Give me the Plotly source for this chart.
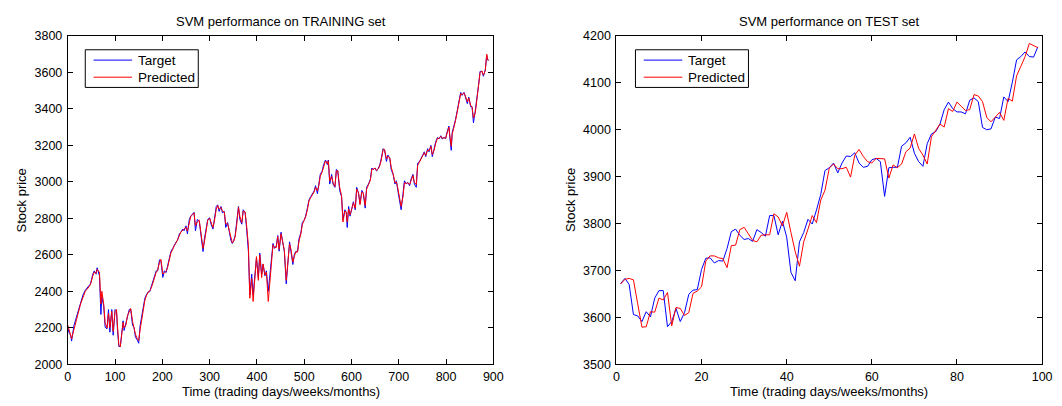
import plotly.graph_objects as go

# ---------------- training set (time index, target price, SVM prediction) ----------------
train_days = [
    0, 3, 6, 8, 13, 18, 22, 27, 32, 37,
    43, 48, 53, 56, 60, 62, 67, 70, 72, 76,
    79, 83, 86, 89, 93, 96, 100, 103, 105, 108,
    111, 114, 117, 119, 123, 126, 130, 133, 137, 140,
    143, 147, 150, 153, 156, 159, 163, 166, 170, 173,
    176, 180, 183, 187, 190, 194, 197, 201, 204, 208,
    211, 215, 218, 222, 225, 229, 232, 236, 239, 243,
    246, 250, 253, 257, 260, 264, 267, 270, 274, 278,
    281, 284, 286, 289, 293, 296, 300, 303, 307, 310,
    314, 317, 320, 324, 327, 331, 334, 338, 341, 345,
    348, 351, 354, 357, 361, 364, 368, 371, 375, 378,
    382, 385, 389, 392, 396, 399, 403, 406, 410, 413,
    417, 420, 424, 427, 430, 434, 437, 441, 444, 447,
    451, 455, 458, 462, 465, 469, 472, 476, 479, 482,
    486, 489, 493, 496, 500, 503, 507, 510, 514, 517,
    521, 524, 528, 531, 534, 538, 541, 545, 549, 551,
    554, 558, 561, 565, 568, 571, 575, 579, 582, 586,
    589, 591, 594, 597, 601, 604, 608, 611, 615, 618,
    622, 625, 629, 632, 636, 640, 643, 646, 650, 653,
    657, 660, 663, 667, 670, 674, 677, 681, 684, 688,
    692, 695, 698, 702, 705, 709, 712, 716, 719, 723,
    726, 730, 733, 737, 740, 744, 747, 750, 754, 757,
    761, 764, 768, 771, 775, 778, 782, 785, 789, 792,
    796, 799, 802, 806, 808, 811, 813, 817, 820, 824,
    827, 831, 834, 838, 841, 845, 848, 852, 855, 858,
    862, 865, 869, 872, 876, 879, 883, 886, 888, 890,
]

train_target = [
    2200, 2170, 2160, 2127, 2212, 2256, 2291, 2335, 2379, 2406,
    2423, 2441, 2494, 2512, 2494, 2529, 2485, 2273, 2370, 2318,
    2203, 2194, 2300, 2176, 2300, 2159, 2300, 2291, 2194, 2097,
    2097, 2185, 2238, 2185, 2230, 2273, 2300, 2303, 2212, 2203,
    2150, 2132, 2115, 2212, 2256, 2318, 2362, 2380, 2397, 2397,
    2423, 2450, 2485, 2512, 2512, 2573, 2565, 2476, 2512, 2503,
    2538, 2591, 2618, 2635, 2653, 2670, 2679, 2715, 2724, 2741,
    2732, 2759, 2715, 2794, 2812, 2821, 2833, 2732, 2794, 2785,
    2724, 2671, 2618, 2688, 2759, 2794, 2803, 2768, 2741, 2794,
    2865, 2874, 2838, 2865, 2830, 2838, 2750, 2777, 2724, 2679,
    2662, 2679, 2706, 2777, 2865, 2794, 2768, 2847, 2830, 2750,
    2618, 2380, 2494, 2380, 2476, 2582, 2476, 2609, 2494, 2547,
    2485, 2512, 2400, 2476, 2582, 2662, 2635, 2650, 2706, 2620,
    2724, 2653, 2618, 2441, 2547, 2671, 2618, 2547, 2600, 2618,
    2620, 2688, 2720, 2777, 2790, 2812, 2860, 2900, 2920, 2935,
    2950, 2979, 2935, 2988, 3041, 3059, 3094, 3120, 3094, 3120,
    2988, 3041, 2988, 2970, 3068, 3059, 2953, 2918, 2794, 2847,
    2830, 2750, 2865, 2812, 2865, 2891, 2847, 2970, 2935, 2882,
    2953, 2935, 2856, 2970, 2988, 3015, 3076, 3068, 3076, 3059,
    3076, 3094, 3129, 3182, 3173, 3112, 3147, 3129, 3068, 3041,
    2988, 3006, 2953, 2900, 2847, 2935, 3006, 2988, 2997, 2979,
    3015, 3041, 2988, 2970, 3103, 3112, 3129, 3138, 3165, 3138,
    3182, 3165, 3200, 3138, 3182, 3218, 3244, 3235, 3253, 3235,
    3244, 3235, 3271, 3306, 3244, 3173, 3271, 3306, 3341, 3394,
    3429, 3491, 3474, 3491, 3465, 3429, 3465, 3412, 3412, 3324,
    3394, 3447, 3535, 3606, 3606, 3579, 3615, 3694, 3668, 3668,
]

train_predicted = [
    2215, 2185, 2150, 2140, 2190, 2250, 2280, 2330, 2370, 2400,
    2418, 2438, 2485, 2505, 2500, 2520, 2505, 2330, 2400, 2330,
    2225, 2200, 2280, 2200, 2290, 2180, 2290, 2300, 2215, 2105,
    2095, 2160, 2230, 2200, 2215, 2265, 2295, 2305, 2235, 2200,
    2165, 2140, 2130, 2190, 2245, 2300, 2350, 2375, 2395, 2400,
    2415, 2445, 2475, 2505, 2515, 2560, 2575, 2495, 2500, 2510,
    2530, 2580, 2610, 2630, 2650, 2665, 2680, 2705, 2725, 2735,
    2740, 2750, 2730, 2780, 2810, 2820, 2830, 2760, 2780, 2790,
    2740, 2690, 2635, 2670, 2745, 2790, 2800, 2775, 2750, 2785,
    2850, 2870, 2850, 2860, 2840, 2835, 2770, 2770, 2735, 2690,
    2665, 2675, 2700, 2760, 2860, 2810, 2775, 2840, 2835, 2765,
    2650, 2362, 2470, 2344, 2460, 2590, 2460, 2600, 2475, 2550,
    2490, 2505, 2344, 2450, 2570, 2655, 2640, 2640, 2700, 2630,
    2715, 2665, 2625, 2460, 2530, 2660, 2630, 2560, 2590, 2615,
    2615, 2675, 2715, 2765, 2790, 2808, 2850, 2895, 2915, 2930,
    2945, 2970, 2950, 2980, 3030, 3055, 3088, 3115, 3100, 3115,
    3005, 3030, 2995, 2975, 3060, 3062, 2970, 2925, 2780, 2840,
    2835, 2780, 2850, 2820, 2855, 2885, 2855, 2960, 2940, 2875,
    2945, 2940, 2870, 2960, 2985, 3010, 3070, 3070, 3075, 3062,
    3072, 3090, 3120, 3178, 3178, 3125, 3140, 3132, 3080, 3045,
    2995, 3000, 2965, 2910, 2865, 2920, 2995, 2992, 2995, 2985,
    3010, 3035, 2998, 2985, 3090, 3110, 3125, 3136, 3160, 3145,
    3175, 3170, 3195, 3150, 3175, 3210, 3240, 3238, 3250, 3240,
    3242, 3238, 3265, 3300, 3255, 3195, 3260, 3300, 3335, 3388,
    3425, 3485, 3478, 3488, 3470, 3440, 3460, 3420, 3410, 3350,
    3380, 3440, 3525, 3600, 3608, 3585, 3610, 3700, 3672, 3665,
]

# ---------------- test set ----------------
test_days = list(range(1, 100))

test_target = [
    3672, 3683, 3670, 3606, 3603, 3591, 3612, 3601, 3641, 3657,
    3657, 3580, 3591, 3619, 3591, 3610, 3649, 3658, 3659, 3702,
    3726, 3727, 3716, 3721, 3720, 3747, 3783, 3788, 3775, 3766,
    3768, 3762, 3787, 3781, 3773, 3817, 3817, 3776, 3805, 3771,
    3696, 3678, 3761, 3781, 3809, 3799, 3829, 3862, 3913, 3919,
    3929, 3908, 3929, 3944, 3943, 3951, 3929, 3920, 3922, 3936,
    3939, 3932, 3858, 3919, 3920, 3920, 3965, 3972, 3984, 3950,
    3932, 3922, 3970, 3991, 3996, 4012, 4043, 4059, 4045, 4038,
    4038, 4034, 4063, 4068, 4060, 4005, 4000, 4002, 4027, 4024,
    4070, 4060, 4101, 4149, 4156, 4166, 4156, 4155, 4177,
]

test_predicted = [
    3671, 3681, 3683, 3680, 3629, 3579, 3580, 3612, 3611, 3641,
    3637, 3653, 3582, 3621, 3619, 3604, 3610, 3651, 3656, 3665,
    3720, 3731, 3731, 3727, 3725, 3706, 3753, 3754, 3787, 3792,
    3778, 3764, 3761, 3775, 3776, 3776, 3821, 3814, 3795, 3824,
    3781, 3740, 3709, 3761, 3788, 3817, 3802, 3850, 3871, 3918,
    3927, 3917, 3917, 3920, 3899, 3946, 3958, 3943, 3932, 3929,
    3939, 3938, 3938, 3897, 3925, 3919, 3927, 3953, 3961, 3991,
    3960, 3946, 3927, 3985, 3998, 4012, 4006, 4045, 4039, 4059,
    4050, 4041, 4043, 4075, 4072, 4060, 4026, 4017, 4027, 4037,
    4020, 4067, 4061, 4115, 4135, 4156, 4184, 4180, 4175,
]

series_names = ["Target", "Predicted"]
panel_titles = ["SVM performance on TRAINING set", "SVM performance on TEST set"]
x_label = "Time (trading days/weeks/months)"
y_label = "Stock price"

FONT = "Liberation Sans, Arial, Helvetica, sans-serif"
BLUE = "#0000ff"
RED = "#ff0000"
W, H = 1062, 406

fig = go.Figure()

fig.add_trace(go.Scatter(x=train_days, y=train_target, mode="lines", name=series_names[0],
                         line=dict(color=BLUE, width=1), xaxis="x", yaxis="y", showlegend=False))
fig.add_trace(go.Scatter(x=train_days, y=train_predicted, mode="lines", name=series_names[1],
                         line=dict(color=RED, width=1), xaxis="x", yaxis="y", showlegend=False))
fig.add_trace(go.Scatter(x=test_days, y=test_target, mode="lines", name=series_names[0],
                         line=dict(color=BLUE, width=1), xaxis="x2", yaxis="y2", showlegend=False))
fig.add_trace(go.Scatter(x=test_days, y=test_predicted, mode="lines", name=series_names[1],
                         line=dict(color=RED, width=1), xaxis="x2", yaxis="y2", showlegend=False))

# plot-area geometry in pixels
left_box = (65.6, 496.4)
right_box = (621.0, 1052.0)
top_px, bottom_px = 30.0, 370.0
ydom = [1 - bottom_px / H, 1 - top_px / H]


def px_x(v):
    return v / W


def px_y(v):
    return 1 - v / H


axis_common = dict(
    showline=True, linecolor="black", linewidth=1, mirror="ticks",
    ticks="inside", ticklen=5, tickcolor="black", tickwidth=1,
    showgrid=False, zeroline=False,
    tickfont=dict(family=FONT, size=12.5, color="black"),
)

fig.update_layout(
    width=W, height=H,
    margin=dict(l=0, r=0, t=0, b=0),
    paper_bgcolor="white", plot_bgcolor="white",
    font=dict(family=FONT, size=13, color="black"),
    showlegend=False,
    xaxis=dict(domain=[px_x(left_box[0]), px_x(left_box[1])], range=[0, 900],
               tickmode="linear", tick0=0, dtick=100, anchor="y",
               ticklabelstandoff=1, **axis_common),
    yaxis=dict(domain=ydom, range=[2000, 3800], tickmode="linear", tick0=2000, dtick=200,
               anchor="x", ticklabelstandoff=2, **axis_common),
    xaxis2=dict(domain=[px_x(right_box[0]), px_x(right_box[1])], range=[0, 100],
                tickmode="linear", tick0=0, dtick=20, anchor="y2",
                ticklabelstandoff=1, **axis_common),
    yaxis2=dict(domain=ydom, range=[3500, 4200], tickmode="linear", tick0=3500, dtick=100,
                anchor="x2", ticklabelstandoff=2, **axis_common),
)

annotations = []
shapes = []
legend_boxes = [(83.3, 197.7), (640.3, 754.7)]
for box, title, lbox in zip([left_box, right_box], panel_titles, legend_boxes):
    cx = px_x((box[0] + box[1]) / 2)
    annotations.append(dict(text=title, x=cx, y=px_y(15.5), xref="paper", yref="paper",
                            xanchor="center", yanchor="middle", showarrow=False,
                            font=dict(family=FONT, size=13, color="black")))
    annotations.append(dict(text=x_label, x=cx, y=px_y(398), xref="paper", yref="paper",
                            xanchor="center", yanchor="middle", showarrow=False,
                            font=dict(family=FONT, size=13, color="black")))
    annotations.append(dict(text=y_label, x=px_x(box[0] - 47), y=(ydom[0] + ydom[1]) / 2,
                            xref="paper", yref="paper", xanchor="center", yanchor="middle",
                            textangle=-90, showarrow=False,
                            font=dict(family=FONT, size=13, color="black")))

    # legend: framed box with a line sample and a label per series
    shapes.append(dict(type="rect", xref="paper", yref="paper",
                       x0=px_x(lbox[0]), x1=px_x(lbox[1]), y0=px_y(83.3), y1=px_y(44.3),
                       line=dict(color="black", width=1), fillcolor="white", layer="above"))
    for name, color, row_y in zip(series_names, [BLUE, RED], [55.0, 72.7]):
        shapes.append(dict(type="line", xref="paper", yref="paper",
                           x0=px_x(lbox[0] + 8.4), x1=px_x(lbox[0] + 47.4),
                           y0=px_y(row_y), y1=px_y(row_y),
                           line=dict(color=color, width=1), layer="above"))
        annotations.append(dict(text=name, x=px_x(lbox[0] + 51.5), y=px_y(row_y),
                                xref="paper", yref="paper", xanchor="left", yanchor="middle",
                                showarrow=False,
                                font=dict(family=FONT, size=13.5, color="black")))

fig.update_layout(annotations=annotations, shapes=shapes)

fig.write_html("out.html")
